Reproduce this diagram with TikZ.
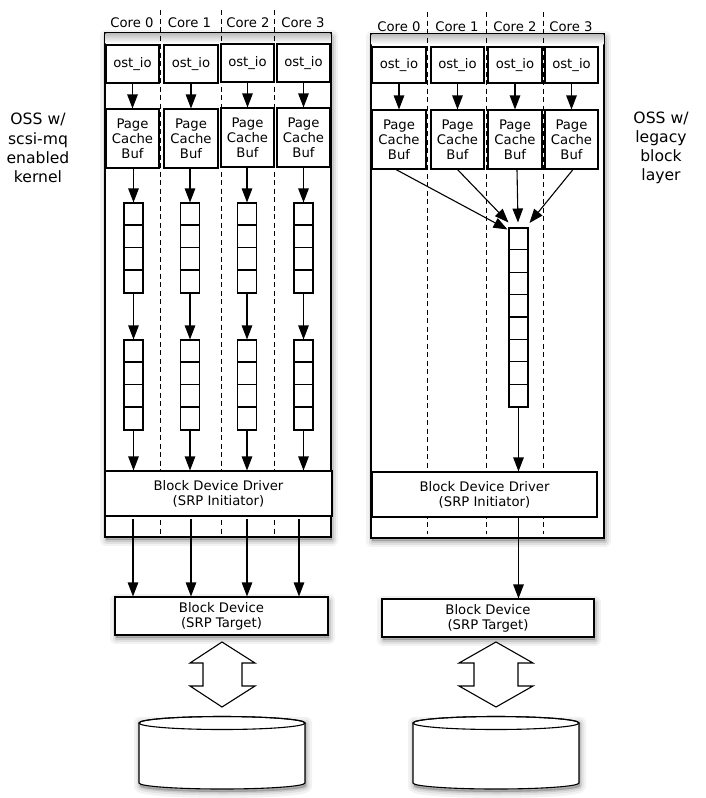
\documentclass[tikz,border=0pt]{standalone}
\usepackage{fontspec}
\setmainfont{DejaVu Sans}
\usetikzlibrary{arrows.meta,calc}
\newcommand\boxfont{\fontsize{13.2}{15.2}\selectfont}
\newcommand\sidefont{\fontsize{15.6}{19.2}\selectfont}
\tikzset{
  shadowlayer/.style={draw=black, fill=black, line join=round},
  panel/.style={draw, line width=1.2pt, fill=white},
  box/.style={draw, line width=1.1pt, fill=white, inner sep=0pt, align=center, font=\boxfont},
  qbox/.style={draw, line width=1.1pt, fill=white, inner sep=0pt, minimum width=19pt},
  cell/.style={line width=1.1pt},
  dline/.style={line width=0.9pt, dash pattern=on 5pt off 3.5pt},
  arr/.style={-{Triangle[length=14pt,width=10.5pt]}, line width=1.1pt},
  corelab/.style={font=\boxfont, inner sep=0pt},
  sidetext/.style={font=\sidefont, align=center, inner sep=0pt},
  dbl/.style={draw, line width=1.1pt, fill=white, line join=miter},
}
\newcommand\myshadow[1]{%
  \begin{scope}[shift={(1,3)}]
    \path[shadowlayer, opacity=0.05, line width=12pt] #1;
    \path[shadowlayer, opacity=0.07, line width=7pt] #1;
    \path[shadowlayer, opacity=0.1, line width=3pt] #1;
  \end{scope}}
\begin{document}
\begin{tikzpicture}[x=1pt,y=-1pt]
\useasboundingbox (0,0) rectangle (706,798);

% ---------- shadows ----------
\myshadow{(105,33) rectangle (331,537)}
\myshadow{(371,34) rectangle (604,538)}
\myshadow{(115,597) rectangle (328,635)}
\myshadow{(382,599) rectangle (594,637)}
\myshadow{(139,720) -- (139,783) arc[start angle=180, end angle=360, x radius=83pt, y radius=6pt] -- (305,720) -- cycle}
\myshadow{(413,720) -- (413,783) arc[start angle=180, end angle=360, x radius=83pt, y radius=6pt] -- (579,720) -- cycle}

% ---------- panels ----------
\draw[panel] (105,33) rectangle (331,537);
\draw[panel] (371,34) rectangle (604,538);
\shade[top color=black!25, bottom color=white] (105.7,33.7) rectangle (330.3,43);
\shade[top color=black!25, bottom color=white] (371.7,34.7) rectangle (603.3,44);

% ---------- dashed core separators ----------
\foreach \x in {160,221.5,274.5} \draw[dline] (\x,10) -- (\x,534);
\foreach \x in {427,486,543} \draw[dline] (\x,12) -- (\x,534);

% ---------- core labels ----------
\node[corelab] (lc0) at (132,22.5) {Core 0};
\node[corelab] (lc1) at (189.5,22.5) {Core 1};
\node[corelab] (lc2) at (248,22.5) {Core 2};
\node[corelab] (lc3) at (303,22.5) {Core 3};
\node[corelab] (rc0) at (399,26.5) {Core 0};
\node[corelab] (rc1) at (457,26.5) {Core 1};
\node[corelab] (rc2) at (515,26.5) {Core 2};
\node[corelab] (rc3) at (571,26.5) {Core 3};

% ---------- side labels ----------
\node[sidetext] (lside) at (38,148) {OSS w/\\scsi-mq\\enabled\\kernel};
\node[sidetext] (rside) at (661,148) {OSS w/\\legacy\\block\\layer};

% ---------- left panel boxes ----------
\node[box, minimum width=53pt, minimum height=38pt] (lo0) at (132.5,64) {ost\_io};
\node[box, minimum width=54pt, minimum height=38pt] (lo1) at (191,64) {ost\_io};
\node[box, minimum width=53pt, minimum height=38pt] (lo2) at (247.5,63) {ost\_io};
\node[box, minimum width=53pt, minimum height=38pt] (lo3) at (303.5,63) {ost\_io};
\node[box, minimum width=53pt, minimum height=59pt] (lp0) at (132.5,138.5) {Page\\Cache\\Buf};
\node[box, minimum width=54pt, minimum height=59pt] (lp1) at (191,138.5) {Page\\Cache\\Buf};
\node[box, minimum width=53pt, minimum height=59pt] (lp2) at (247.5,137.5) {Page\\Cache\\Buf};
\node[box, minimum width=53pt, minimum height=59pt] (lp3) at (303.5,137.5) {Page\\Cache\\Buf};

\foreach \i/\x in {0/133.5,1/190,2/247,3/303.5} {
  \node[qbox, minimum height=90pt] (lqa\i) at (\x,248) {};
  \node[qbox, minimum height=90pt] (lqb\i) at (\x,385) {};
  \foreach \k in {1,2,3} {
    \draw[cell] ($(lqa\i.north west)+(0,22.5*\k)$) -- ($(lqa\i.north east)+(0,22.5*\k)$);
    \draw[cell] ($(lqb\i.north west)+(0,22.5*\k)$) -- ($(lqb\i.north east)+(0,22.5*\k)$);
  }
}

\node[box, minimum width=227pt, minimum height=45pt] (ldrv) at (218.5,493.5) {Block Device Driver\\(SRP Initiator)};
\node[box, minimum width=213pt, minimum height=38pt] (lbd) at (221.5,616) {Block Device\\(SRP Target)};

% left arrows
\foreach \i in {0,1,2,3} {
  \draw[arr] (lo\i.south) -- (lp\i.north);
  \draw[arr] (lp\i.south -| lqa\i.north) -- (lqa\i.north);
  \draw[arr] (lqa\i.south) -- (lqb\i.north);
  \draw[arr] (lqb\i.south) -- (lqb\i.south |- ldrv.north);
}
\coordinate (lx0) at (133,0);
\coordinate (lx1) at (191,0);
\coordinate (lx2) at (247,0);
\coordinate (lx3) at (299,0);
\foreach \i in {0,1,2,3} \draw[arr] ($(ldrv.south -| lx\i)+(0,2.5)$) -- (lbd.north -| lx\i);

% ---------- right panel boxes ----------
\node[box, minimum width=54pt, minimum height=36pt] (ro0) at (399,65) {ost\_io};
\node[box, minimum width=53pt, minimum height=36pt] (ro1) at (457.5,65) {ost\_io};
\node[box, minimum width=54pt, minimum height=36pt] (ro2) at (515,65) {ost\_io};
\node[box, minimum width=53pt, minimum height=36pt] (ro3) at (571.5,65) {ost\_io};
\node[box, minimum width=54pt, minimum height=59pt] (rp0) at (399,139.5) {Page\\Cache\\Buf};
\node[box, minimum width=53pt, minimum height=59pt] (rp1) at (457.5,139.5) {Page\\Cache\\Buf};
\node[box, minimum width=54pt, minimum height=59pt] (rp2) at (515,139.5) {Page\\Cache\\Buf};
\node[box, minimum width=53pt, minimum height=59pt] (rp3) at (571.5,139.5) {Page\\Cache\\Buf};

\node[qbox, minimum height=179pt] (rq) at (518.5,317.5) {};
\foreach \k in {1,...,7}
  \draw[cell] ($(rq.north west)+(0,22.375*\k)$) -- ($(rq.north east)+(0,22.375*\k)$);

\node[box, minimum width=225pt, minimum height=45pt] (rdrv) at (484.5,494.5) {Block Device Driver\\(SRP Initiator)};
\node[box, minimum width=212pt, minimum height=38pt] (rbd) at (488,618) {Block Device\\(SRP Target)};

\foreach \i in {0,1,2,3} \draw[arr] (ro\i.south) -- (rp\i.north);
\coordinate (rt0) at (507.5,229.5);
\coordinate (rt1) at (508.5,222.5);
\coordinate (rt2) at (518,222.5);
\coordinate (rt3) at (529.5,223);
\draw[arr] ($(rp0.south)+(-3,0)$) -- (rt0);
\draw[arr] (rp1.south) -- (rt1);
\draw[arr] ($(rp2.south)+(2,0)$) -- (rt2);
\draw[arr] ($(rp3.south)+(1.5,0)$) -- (rt3);
\draw[arr] (rq.south) -- (rq.south |- rdrv.north);
\draw[arr] (rdrv.south -| rq.south) -- (rbd.north -| rq.south);

% ---------- double arrows ----------
\draw[dbl] (222,642) -- (255,663) -- (242,663) -- (242,686) -- (255,686) -- (222,707)
  -- (190,686) -- (203,686) -- (203,663) -- (190,663) -- cycle;
\draw[dbl] (496,642) -- (533,663) -- (518,663) -- (518,686) -- (533,686) -- (496,707)
  -- (459,686) -- (474,686) -- (474,663) -- (459,663) -- cycle;

% ---------- disks ----------
\draw[dbl] (139,723) -- (139,783) arc[start angle=180, end angle=360, x radius=83pt, y radius=6pt]
  -- (305,723) arc[start angle=0, end angle=180, x radius=83pt, y radius=6.5pt] -- cycle;
\draw[line width=1.1pt] (222,723) ellipse [x radius=83pt, y radius=6.5pt];
\draw[dbl] (413,723) -- (413,783) arc[start angle=180, end angle=360, x radius=83pt, y radius=6pt]
  -- (579,723) arc[start angle=0, end angle=180, x radius=83pt, y radius=6.5pt] -- cycle;
\draw[line width=1.1pt] (496,723) ellipse [x radius=83pt, y radius=6.5pt];
\end{tikzpicture}
\end{document}
